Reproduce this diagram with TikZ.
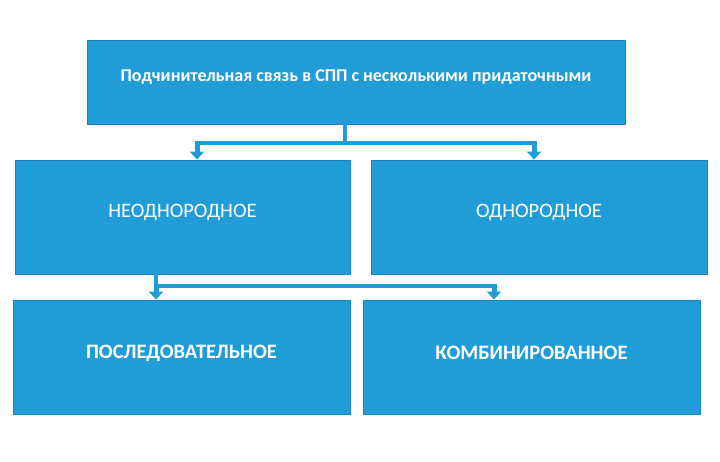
\documentclass[tikz,border=0pt]{standalone}
\usepackage{fontspec}
\setmainfont{Carlito}
\usetikzlibrary{arrows.meta}

\definecolor{boxblue}{RGB}{32,157,216}
\definecolor{boxedge}{RGB}{26,134,188}

\tikzset{
  box/.style={draw=boxedge, fill=boxblue, line width=0.8pt, rectangle, inner sep=0pt},
  boxtext/.style={text=white, font=#1},
  link/.style={draw=boxblue, line width=3.5pt},
  pointer/.style={draw=boxblue, line width=5pt, -{Triangle[width=14pt,length=8pt]}},
}

\begin{document}
\begin{tikzpicture}[x=1pt,y=-1pt]
\useasboundingbox (0,0) rectangle (720,462);

% boxes
\node[box, minimum width=538pt, minimum height=84pt] (svyaz) at (356,82) {};
\node[box, minimum width=335pt, minimum height=114pt] (neodn) at (182.5,217) {};
\node[box, minimum width=336pt, minimum height=114pt] (odnor) at (539,217) {};
\node[box, minimum width=337pt, minimum height=114pt] (posl) at (181.5,357) {};
\node[box, minimum width=337pt, minimum height=114pt] (komb) at (531.5,357) {};

% texts
\node[boxtext={\bfseries\fontsize{18}{21}\selectfont}] (svyazt) at ([yshift=5pt]svyaz.center) {Подчинительная связь в СПП с несколькими придаточными};
\node[boxtext={\fontsize{20.5}{24}\selectfont}] (neodnt) at ([yshift=5pt]neodn.center) {НЕОДНОРОДНОЕ};
\node[boxtext={\fontsize{20.5}{24}\selectfont}] (odnort) at ([yshift=5pt]odnor.center) {ОДНОРОДНОЕ};
\node[boxtext={\bfseries\fontsize{20.5}{24}\selectfont}] (poslt) at ([yshift=4pt]posl.center) {ПОСЛЕДОВАТЕЛЬНОЕ};
\node[boxtext={\bfseries\fontsize{20.5}{24}\selectfont}] (kombt) at ([yshift=4pt]komb.center) {КОМБИНИРОВАННОЕ};

% upper branching
\coordinate (up) at (345,143);
\coordinate (upl) at (197,143);
\coordinate (upr) at (534,143);
\draw[link] (up |- svyaz.south) -- (up);
\draw[link] ([xshift=-1.7pt]upl) -- ([xshift=1.7pt]upr);
\draw[pointer] ([yshift=1.7pt]upl) -- (upl |- neodn.north);
\draw[pointer] ([yshift=1.7pt]upr) -- (upr |- odnor.north);

% lower branching
\coordinate (lol) at (156,286);
\coordinate (lor) at (494,286);
\draw[link] (lol |- neodn.south) -- ([yshift=1.7pt]lol);
\draw[link] ([xshift=-1.7pt]lol) -- ([xshift=1.7pt]lor);
\draw[pointer] (lol) -- (lol |- posl.north);
\draw[pointer] ([yshift=1.7pt]lor) -- (lor |- komb.north);

\end{tikzpicture}
\end{document}
